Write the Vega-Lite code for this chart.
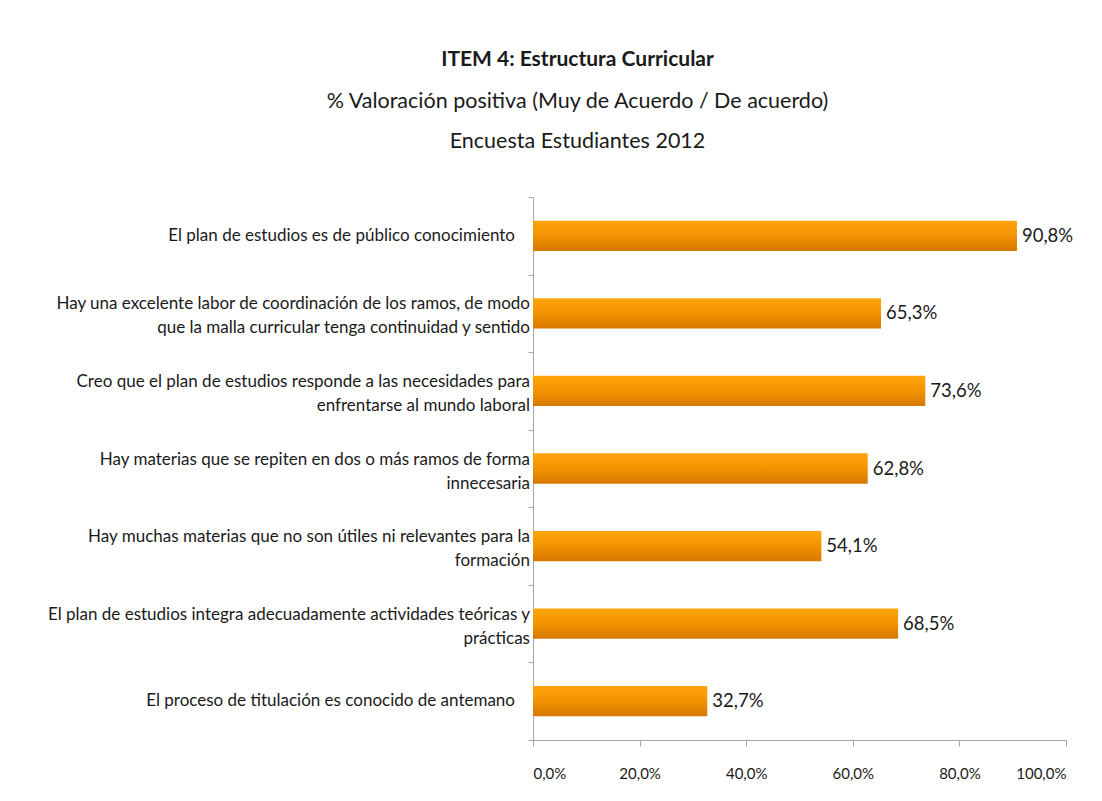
{
  "$schema": "https://vega.github.io/schema/vega-lite/v6.json",
  "autosize": {"type": "none"},
  "width": 533,
  "height": 543,
  "padding": {"left": 533, "top": 197, "right": 36, "bottom": 61},
  "background": "white",
  "config": {
    "locale": {"number": {"decimal": ",", "thousands": ".", "grouping": [3], "currency": ["", " €"]}},
    "font": "Lato",
    "view": {"stroke": null}
  },
  "title": {
    "text": "ITEM 4: Estructura  Curricular",
    "subtitle": ["% Valoración positiva (Muy de Acuerdo / De acuerdo)", "Encuesta Estudiantes 2012"],
    "font": "Lato",
    "subtitleFont": "Lato",
    "fontSize": 21,
    "fontWeight": "bold",
    "subtitleFontSize": 21.5,
    "subtitleLineHeight": 40,
    "subtitlePadding": 21,
    "color": "#1a1a1a",
    "subtitleColor": "#1a1a1a",
    "anchor": "middle",
    "dx": -222,
    "offset": 44
  },
  "data": {
    "values": [
      {"item": "El plan de estudios es de público conocimiento", "valor": 0.908},
      {"item": "Hay una excelente labor de coordinación de los ramos, de modo\nque la malla curricular tenga continuidad y sentido", "valor": 0.653},
      {"item": "Creo que el plan de estudios responde a las necesidades para\nenfrentarse al mundo laboral", "valor": 0.736},
      {"item": "Hay materias que se repiten en dos o más ramos de forma\ninnecesaria", "valor": 0.628},
      {"item": "Hay muchas materias que no son útiles ni relevantes para la\nformación", "valor": 0.541},
      {"item": "El plan de estudios integra adecuadamente actividades teóricas y\nprácticas", "valor": 0.685},
      {"item": "El proceso de titulación es conocido de antemano", "valor": 0.327}
    ]
  },
  "encoding": {
    "y": {
      "field": "item",
      "type": "nominal",
      "sort": null,
      "scale": {"paddingInner": 0, "paddingOuter": 0},
      "axis": {
        "title": null,
        "labels": false,
        "domainColor": "#a6a6a6",
        "tickColor": "#a6a6a6",
        "tickSize": 5,
        "tickBand": "extent"
      }
    }
  },
  "layer": [
    {
      "mark": {
        "type": "bar",
        "height": {"band": 0.39},
        "color": {
          "gradient": "linear", "x1": 0, "y1": 0, "x2": 0, "y2": 1,
          "stops": [
            {"offset": 0, "color": "#FFA40A"},
            {"offset": 0.5, "color": "#F29300"},
            {"offset": 1, "color": "#D67800"}
          ]
        }
      },
      "encoding": {
        "x": {
          "field": "valor",
          "type": "quantitative",
          "scale": {"domain": [0, 1]},
          "axis": {
            "title": null,
            "format": ".1%",
            "values": [0, 0.2, 0.4, 0.6, 0.8, 1.0],
            "grid": false,
            "labelFontSize": 15,
            "labelColor": "#1a1a1a",
            "labelPadding": 20,
            "domainColor": "#a6a6a6",
            "tickColor": "#a6a6a6",
            "tickSize": 6
          }
        }
      }
    },
    {
      "mark": {"type": "text", "align": "left", "dx": 5, "fontSize": 18.5, "color": "#1a1a1a"},
      "encoding": {
        "x": {"field": "valor", "type": "quantitative"},
        "text": {"field": "valor", "type": "quantitative", "format": ".1%"}
      }
    },
    {
      "transform": [{"filter": "indexof(datum.item, '\\n') < 0"}],
      "mark": {"type": "text", "align": "right", "baseline": "middle", "dx": -18, "fontSize": 17, "color": "#1a1a1a"},
      "encoding": {
        "x": {"datum": 0, "type": "quantitative"},
        "text": {"field": "item", "type": "nominal"}
      }
    },
    {
      "transform": [{"filter": "indexof(datum.item, '\\n') >= 0"}],
      "mark": {"type": "text", "align": "right", "baseline": "middle", "dx": -3, "dy": -9, "lineBreak": "\n", "lineHeight": 24, "fontSize": 17, "color": "#1a1a1a"},
      "encoding": {
        "x": {"datum": 0, "type": "quantitative"},
        "text": {"field": "item", "type": "nominal"}
      }
    }
  ]
}
